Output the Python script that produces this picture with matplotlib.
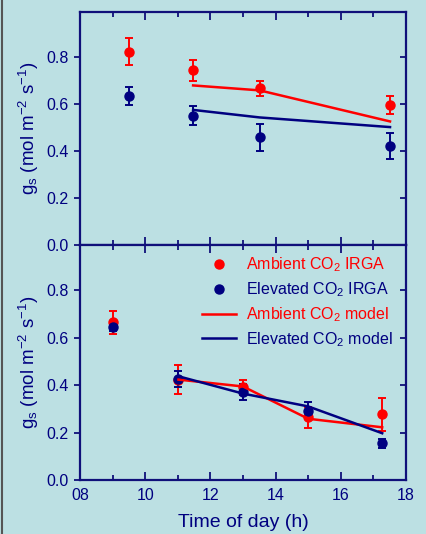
import matplotlib
matplotlib.use("Agg")
import matplotlib.pyplot as plt
from matplotlib.lines import Line2D

plt.rcParams['font.family'] = ['Liberation Sans', 'DejaVu Sans']
plt.rcParams['mathtext.fontset'] = 'custom'
plt.rcParams['mathtext.rm'] = 'Liberation Sans'
plt.rcParams['mathtext.it'] = 'Liberation Sans'

BG = '#bce0e3'
NAVY = '#000080'
RED = '#ff0000'
AX = '#10107a'

# ---- top panel data ----
top_time = [9.5, 11.47, 13.51, 17.51]
top_amb = [0.822, 0.742, 0.665, 0.594]
top_amb_err = [0.057, 0.045, 0.033, 0.037]
top_elev = [0.633, 0.550, 0.457, 0.421]
top_elev_err = [0.038, 0.039, 0.056, 0.055]
top_model_time = [11.47, 13.51, 17.51]
top_amb_model = [0.678, 0.657, 0.525]
top_elev_model = [0.574, 0.542, 0.501]

# ---- bottom panel data ----
bot_time = [9.0, 11.02, 13.0, 15.0, 17.27]
bot_amb = [0.665, 0.423, 0.390, 0.265, 0.276]
bot_amb_err = [0.049, 0.062, 0.032, 0.044, 0.070]
bot_elev = [0.646, 0.426, 0.369, 0.292, 0.155]
bot_elev_err = [0.018, 0.035, 0.034, 0.035, 0.019]
bot_model_time = [11.02, 13.0, 15.0, 17.27]
bot_amb_model = [0.423, 0.394, 0.258, 0.222]
bot_elev_model = [0.437, 0.364, 0.310, 0.197]

xticks = [8, 10, 12, 14, 16, 18]
xticklabels = ['08', '10', '12', '14', '16', '18']
yticks = [0.0, 0.2, 0.4, 0.6, 0.8]

fig = plt.figure(figsize=(4.26, 5.34), dpi=100, facecolor=BG)
W, H = 426, 534
L, R = 80, 406
ax1 = fig.add_axes([L / W, 1 - 245 / H, (R - L) / W, (245 - 12) / H])
ax2 = fig.add_axes([L / W, 1 - 480 / H, (R - L) / W, (480 - 245) / H])

fig.add_artist(Line2D([1.5 / W, 1.5 / W], [0, 1], transform=fig.transFigure,
                      color='#555555', lw=1.5))

ms = 6.5
for ax in (ax1, ax2):
    ax.set_facecolor(BG)
    ax.set_xlim(8, 18)
    ax.set_ylim(0, 0.99)
    for s in ax.spines.values():
        s.set_color(AX)
        s.set_linewidth(1.6)
    ax.set_xticks(xticks)
    ax.set_xticks([9, 11, 13, 15, 17], minor=True)
    ax.set_yticks(yticks)
    ax.set_yticklabels(['%.1f' % v for v in yticks])
    ax.tick_params(axis='x', which='both', direction='in', top=True, bottom=True,
                   color=AX, width=1.3, labelcolor=NAVY, labelsize=11.5, pad=6)
    ax.tick_params(axis='x', which='major', length=5.5)
    ax.tick_params(axis='x', which='minor', length=3.5)
    ax.tick_params(axis='y', which='major', direction='out', left=True, right=False,
                   color=AX, width=1.3, length=4.5, labelcolor=NAVY, labelsize=11.5)
    ax.set_ylabel(r'g$_\mathrm{s}$ (mol m$^{-2}$ s$^{-1}$)', color=NAVY, fontsize=13.5, labelpad=4)
    # right inner ticks
    sec = ax.secondary_yaxis('right')
    sec.set_yticks([0.2, 0.4, 0.6, 0.8])
    sec.tick_params(direction='in', color=AX, width=1.3, length=4.5, labelright=False)
    sec.spines['right'].set_visible(False)

ax1.tick_params(axis='x', which='both', labelbottom=False)
ax2.set_xticklabels(xticklabels)

ek = dict(fmt='o', ms=ms, capsize=3, elinewidth=1.4, capthick=1.4)
ax1.errorbar(top_time, top_amb, yerr=top_amb_err, color=RED, **ek, zorder=3)
ax1.errorbar(top_time, top_elev, yerr=top_elev_err, color=NAVY, **ek, zorder=3)
ax1.plot(top_model_time, top_amb_model, color=RED, lw=1.8, zorder=4)
ax1.plot(top_model_time, top_elev_model, color=NAVY, lw=1.8, zorder=4)

ax2.errorbar(bot_time, bot_amb, yerr=bot_amb_err, color=RED, **ek, zorder=3)
ax2.errorbar(bot_time, bot_elev, yerr=bot_elev_err, color=NAVY, **ek, zorder=3)
ax2.plot(bot_model_time, bot_amb_model, color=RED, lw=1.8, zorder=4)
ax2.plot(bot_model_time, bot_elev_model, color=NAVY, lw=1.8, zorder=4)

ax2.set_xlabel('Time of day (h)', color=NAVY, fontsize=14, labelpad=8)

handles = [
    Line2D([], [], ls='none', marker='o', ms=ms, color=RED),
    Line2D([], [], ls='none', marker='o', ms=ms, color=NAVY),
    Line2D([], [], color=RED, lw=1.8),
    Line2D([], [], color=NAVY, lw=1.8),
]
labels = ['Ambient CO$_2$ IRGA', 'Elevated CO$_2$ IRGA',
          'Ambient CO$_2$ model', 'Elevated CO$_2$ model']
leg = ax2.legend(handles, labels, loc='upper left', bbox_to_anchor=(0.375, 0.955),
                 frameon=False, fontsize=11.5, handlelength=2.1, handletextpad=0.65,
                 labelspacing=0.38, borderpad=0, borderaxespad=0)
for t, c in zip(leg.get_texts(), [RED, NAVY, RED, NAVY]):
    t.set_color(c)

fig.savefig('out.png', dpi=100, facecolor=BG)
